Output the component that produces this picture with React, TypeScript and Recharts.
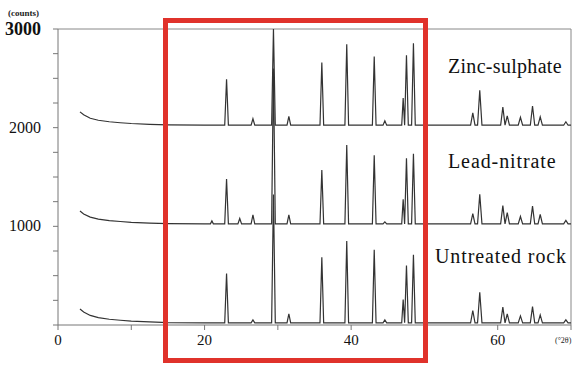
// @ts-nocheck
import { ComposedChart, Line, XAxis, YAxis, ReferenceLine } from 'recharts'

// peak positions (°2θ) and half widths at the base
const peakPos = [21.0, 23.0, 24.8, 26.6, 29.4, 31.5, 36.0, 39.4, 43.15, 44.6, 47.1, 47.55, 48.5, 56.6, 57.55, 60.7, 61.3, 63.1, 64.75, 65.8, 69.3]
const peakWidth = [0.2, 0.25, 0.25, 0.25, 0.25, 0.25, 0.25, 0.25, 0.25, 0.25, 0.2, 0.25, 0.25, 0.3, 0.3, 0.3, 0.3, 0.3, 0.3, 0.3, 0.3]

// peak heights above each pattern's baseline (counts)
const zincPeaks = [0, 465, 0, 65, 975, 90, 635, 820, 695, 45, 275, 710, 830, 125, 355, 185, 95, 80, 195, 85, 35]
const leadPeaks = [30, 455, 55, 90, 1575, 90, 545, 800, 695, 20, 250, 665, 710, 105, 300, 185, 115, 75, 180, 95, 35]
const rockPeaks = [0, 500, 0, 30, 1300, 90, 665, 830, 740, 30, 235, 580, 690, 125, 310, 160, 90, 70, 165, 80, 30]

// low-angle background
const bgX = [3, 3.5, 4.4, 5.5, 7, 8.5, 10, 12.5, 15, 20]
const zincBg = [135, 105, 70, 50, 35, 25, 17, 8, 3, 0]
const leadBg = [130, 100, 68, 48, 33, 24, 16, 8, 3, 0]
const rockBg = [140, 110, 75, 52, 36, 26, 18, 9, 3, 0]

const zincBase = 2025
const leadBase = 1025
const rockBase = 22

const yTicks = [0, 250, 500, 750, 1000, 1250, 1500, 1750, 2000, 2250, 2500, 2750, 3000]
const yLabels = [1000, 2000, 3000]
const xTicks = [0, 10, 20, 30, 40, 50, 60, 70]
const xLabels = [0, 20, 40, 60]

function buildSeries(base, bg, heights) {
  const pts = bgX.map((x, i) => ({ x, y: base + bg[i] }))
  peakPos.forEach((p, i) => {
    const h = heights[i]
    if (!h) return
    const w = peakWidth[i]
    pts.push({ x: p - w, y: base }, { x: p, y: base + h }, { x: p + w, y: base })
  })
  pts.push({ x: 70, y: base })
  return pts.sort((a, b) => a.x - b.x)
}

const zinc = buildSeries(zincBase, zincBg, zincPeaks)
const lead = buildSeries(leadBase, leadBg, leadPeaks)
const rock = buildSeries(rockBase, rockBg, rockPeaks)

const font = '"Liberation Serif", "DejaVu Serif", serif'

function YTick({ y, payload }) {
  if (!yLabels.includes(payload.value)) return null
  const big = payload.value === 3000
  return (
    <text x={41} y={y} dy={big ? 6 : 5} textAnchor="end" fontFamily={font} fontSize={big ? 18 : 16} fontWeight={big ? 'bold' : 'normal'} fill="#111">
      {payload.value}
    </text>
  )
}

function XTick({ x, payload }) {
  if (!xLabels.includes(payload.value)) return null
  return (
    <text x={x} y={345} textAnchor="middle" fontFamily={font} fontSize={15} fill="#111">
      {payload.value}
    </text>
  )
}

const labelStyle = { position: 'absolute', fontFamily: font, fontSize: 20, color: '#111', whiteSpace: 'nowrap', lineHeight: '20px' }

export default function App() {
  return (
    <div style={{ position: 'absolute', left: 0, top: 0, width: 581, height: 365, background: '#fff' }}>
      <ComposedChart width={581} height={365} margin={{ top: 29, right: 10, left: 0, bottom: 0 }}>
        <XAxis type="number" dataKey="x" domain={[0, 70]} ticks={xTicks} tick={<XTick />} height={40} tickSize={5} stroke="#777" interval={0} />
        <YAxis type="number" domain={[0, 3000]} ticks={yTicks} tick={<YTick />} width={58} tickSize={5} stroke="#777" interval={0} />
        <ReferenceLine y={3000} stroke="#888" />
        <ReferenceLine x={70} stroke="#888" />
        <Line data={rock} dataKey="y" type="linear" stroke="#333" strokeWidth={1.2} dot={false} isAnimationActive={false} />
        <Line data={lead} dataKey="y" type="linear" stroke="#333" strokeWidth={1.2} dot={false} isAnimationActive={false} />
        <Line data={zinc} dataKey="y" type="linear" stroke="#333" strokeWidth={1.2} dot={false} isAnimationActive={false} />
      </ComposedChart>
      <div style={{ position: 'absolute', left: 8, top: 8, fontFamily: font, fontSize: 9, fontWeight: 'bold', color: '#222' }}>(counts)</div>
      <div style={{ position: 'absolute', left: 555, top: 336, fontFamily: font, fontSize: 8, color: '#222' }}>(°2θ)</div>
      <div style={{ ...labelStyle, left: 448, top: 56, letterSpacing: 0.3 }}>Zinc-sulphate</div>
      <div style={{ ...labelStyle, left: 448, top: 151, letterSpacing: 0.9 }}>Lead-nitrate</div>
      <div style={{ ...labelStyle, left: 435, top: 246, letterSpacing: 0.9 }}>Untreated rock</div>
      <div style={{ position: 'absolute', left: 163, top: 18, width: 255, height: 335, border: '5px solid #e0322b' }} />
    </div>
  )
}
